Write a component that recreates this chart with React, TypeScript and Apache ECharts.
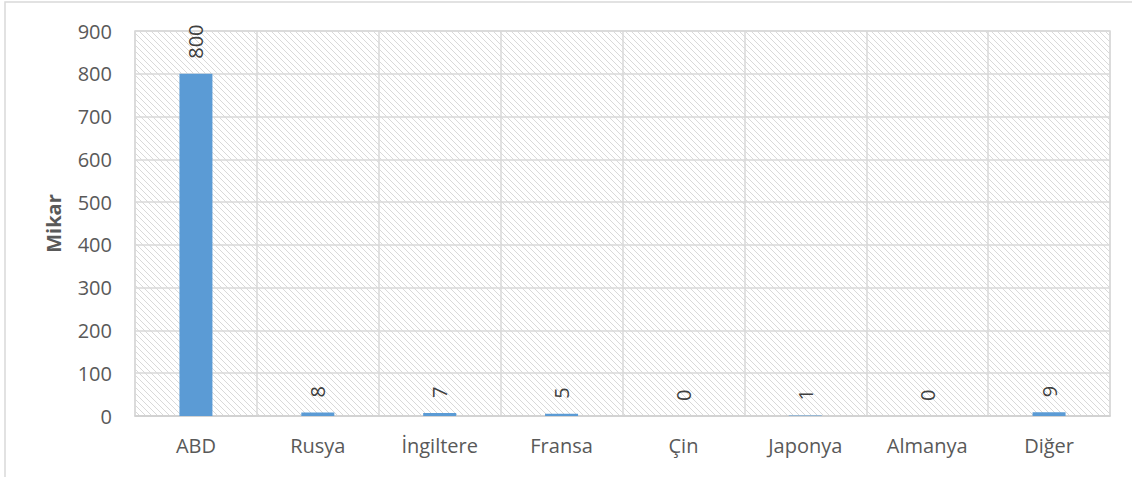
import React, { useEffect, useRef } from "react";
import * as echarts from "echarts";

const categories = ["ABD", "Rusya", "İngiltere", "Fransa", "Çin", "Japonya", "Almanya", "Diğer"];
const values = [800, 8, 7, 5, 0, 1, 0, 9];
const yAxisName = "Mikar";
const yMin = 0;
const yMax = 900;
const yInterval = 100;

function makeHatch(): HTMLCanvasElement {
  const n = 6;
  const c = document.createElement("canvas");
  c.width = n;
  c.height = n;
  const ctx = c.getContext("2d")!;
  ctx.fillStyle = "#ffffff";
  ctx.fillRect(0, 0, n, n);
  ctx.fillStyle = "#d9d9d9";
  for (let i = 0; i < n; i++) {
    ctx.fillRect(i, i, 1, 1);
  }
  return c;
}

export default function App() {
  const ref = useRef<HTMLDivElement>(null);
  useEffect(() => {
    if (!ref.current) return;
    const chart = echarts.init(ref.current, undefined, { renderer: "svg" });
    const font = "'Open Sans', sans-serif";
    chart.setOption({
      animation: false,
      backgroundColor: "#ffffff",
      textStyle: { fontFamily: font },
      graphic: [
        {
          type: "rect",
          shape: { x: 5, y: 2, width: 1200, height: 600 },
          style: { fill: "none", stroke: "#d9d9d9", lineWidth: 1.5 },
          silent: true,
          z: -1,
        },
      ],
      grid: {
        left: 135,
        right: 22,
        top: 31,
        bottom: 61,
        show: true,
        backgroundColor: { image: makeHatch(), repeat: "repeat", imageWidth: 6, imageHeight: 6 } as any,
        borderColor: "#d9d9d9",
        borderWidth: 1.5,
      },
      xAxis: {
        type: "category",
        data: categories,
        axisLine: { show: true, lineStyle: { color: "#d0d0d0", width: 1.5 } },
        axisTick: { show: false },
        splitLine: { show: true, lineStyle: { color: "#d9d9d9", width: 1.5 } },
        axisLabel: { color: "#595959", fontSize: 20, margin: 19, fontFamily: font },
      },
      yAxis: {
        type: "value",
        min: yMin,
        max: yMax,
        interval: yInterval,
        name: yAxisName,
        nameLocation: "middle",
        nameGap: 72,
        nameTextStyle: { color: "#595959", fontSize: 20, fontWeight: "bold", fontFamily: font },
        axisLine: { show: false },
        axisTick: { show: false },
        splitLine: { show: true, lineStyle: { color: "#d9d9d9", width: 1.5 } },
        axisLabel: { color: "#595959", fontSize: 20, margin: 23, fontFamily: font },
      },
      series: [
        {
          type: "bar",
          data: values,
          barWidth: 33,
          itemStyle: { color: "#5b9bd5" },
          label: {
            show: true,
            position: "top",
            rotate: 90,
            align: "left",
            verticalAlign: "middle",
            distance: 15,
            color: "#404040",
            fontSize: 20,
            fontFamily: font,
          },
        },
      ],
    });
    return () => chart.dispose();
  }, []);
  return (
    <div
      ref={ref}
      style={{ position: "absolute", left: 0, top: 0, width: 1132, height: 477 }}
    />
  );
}
